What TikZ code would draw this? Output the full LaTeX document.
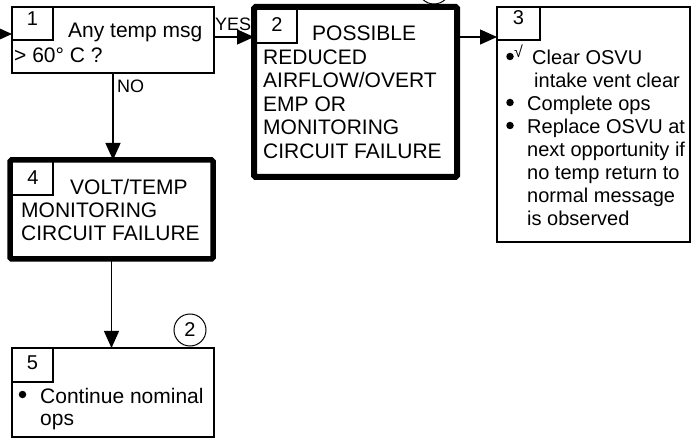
\documentclass[tikz,border=0pt]{standalone}
\usepackage{fontspec}
\setmainfont{Liberation Sans}
\usetikzlibrary{arrows.meta}
\begin{document}
\begin{tikzpicture}[x=1pt,y=-1pt,
  thinbox/.style={draw, line width=1.3pt, inner sep=0, outer sep=0, anchor=north west},
  thickbox/.style={draw, line width=6pt, inner sep=0, outer sep=0, anchor=north west, rounded corners=1.5pt},
  numbox/.style={draw, line width=1.2pt, inner sep=0, outer sep=0, anchor=north west},
  txt/.style={anchor=base west, inner sep=0, font=\fontsize{21}{23}\selectfont},
  txtb/.style={anchor=base west, inner sep=0, font=\fontsize{20}{23}\selectfont},
  num/.style={anchor=base, inner sep=0, font=\fontsize{20}{23}\selectfont},
  lbl/.style={anchor=base west, inner sep=0, font=\fontsize{18}{20}\selectfont},
  dot/.style={circle, fill=black, inner sep=0, minimum size=7.5pt},
  arr/.style={line width=1.3pt, -{Triangle[length=17pt,width=15pt]}},
  circ/.style={draw, circle, line width=1pt, minimum size=32pt, inner sep=0, font=\fontsize{20}{23}\selectfont}
]
\useasboundingbox (0,0) rectangle (691,438);
\clip (0,0) rectangle (691,438);

% Box 1
\node[thinbox, minimum width=202pt, minimum height=66pt] (b1) at (12,7) {};
\node[numbox, minimum width=41pt, minimum height=33pt] (n1) at (12,7) {};
\node[num] (d1) at (32.5,26) {1};
\node[txt] (t1a) at (68,38) {Any temp msg};
\node[txt] (t1b) at (14,63) {> 60° C ?};

% Box 2
\node[thickbox, minimum width=203pt, minimum height=170pt] (b2) at (254,7) {};
\node[numbox, minimum width=43pt, minimum height=36pt] (n2) at (254,7) {};
\node[num] (d2) at (277,32) {2};
\node[txt] (t2a) at (312,41) {POSSIBLE};
\node[txt] (t2b) at (263,64.5) {REDUCED};
\node[txt] (t2c) at (263,88) {AIRFLOW/OVERT};
\node[txt] (t2d) at (263,111.5) {EMP OR};
\node[txt] (t2e) at (263,135) {MONITORING};
\node[txt] (t2f) at (263,158.5) {CIRCUIT FAILURE};
\node[circ] (c1) at (434,-12) {};

% Box 3
\node[thinbox, minimum width=193pt, minimum height=235pt] (b3) at (497,7) {};
\node[numbox, minimum width=43pt, minimum height=33pt] (n3) at (497,7) {};
\node[num] (d3) at (518.5,25) {3};
\node[dot] (k1) at (510,56.5) {};
\node[anchor=base west, inner sep=0, font=\fontsize{16}{17}\selectfont] (ck) at (514,58) {√};
\node[txtb] (t3a) at (532,65) {Clear OSVU};
\node[txtb] (t3b) at (534,88) {intake vent clear};
\node[dot] (k2) at (510,102.5) {};
\node[txtb] (t3c) at (527,111) {Complete ops};
\node[dot] (k3) at (510,125.5) {};
\node[txtb] (t3d) at (527,134) {Replace OSVU at};
\node[txtb] (t3e) at (527,157) {next opportunity if};
\node[txtb] (t3f) at (527,180) {no temp return to};
\node[txtb] (t3g) at (527,203) {normal message};
\node[txtb] (t3h) at (527,226) {is observed};

% Box 4
\node[thickbox, line width=5.5pt, minimum width=203pt, minimum height=99pt] (b4) at (10,160) {};
\node[numbox, minimum width=43pt, minimum height=35pt] (n4) at (10,160) {};
\node[num] (d4) at (33,185) {4};
\node[txt] (t4a) at (70,195) {VOLT/TEMP};
\node[txt] (t4b) at (21,218) {MONITORING};
\node[txt] (t4c) at (21,241) {CIRCUIT FAILURE};

% Box 5
\node[thinbox, minimum width=202pt, minimum height=89pt] (b5) at (12,348) {};
\node[numbox, minimum width=41pt, minimum height=34pt] (n5) at (12,348) {};
\node[num] (d5) at (32.5,370) {5};
\node[dot] (k5) at (22.5,394.5) {};
\node[txt] (t5a) at (40,403) {Continue nominal};
\node[txt] (t5b) at (40,425) {ops};
\node[circ] (c2) at (190,330) {2};

% Connectors
\coordinate (in) at (-10,34);
\draw[arr] (in) -- (in -| b1.west);
\coordinate (y1) at ([yshift=-30pt]b1.north east);
\draw[arr] (y1) -- (y1 -| b2.west);
\node[lbl] (yes) at (215,31) {YES};
\coordinate (y2) at ([yshift=-30pt]b2.north east);
\draw[arr] (y2) -- (y2 -| b3.west);
\draw[arr] (b1.south) -- (b1.south |- b4.north);
\node[lbl] (no) at (117,93) {NO};
\draw[arr] (b4.south) -- (b4.south |- b5.north);
\end{tikzpicture}
\end{document}
